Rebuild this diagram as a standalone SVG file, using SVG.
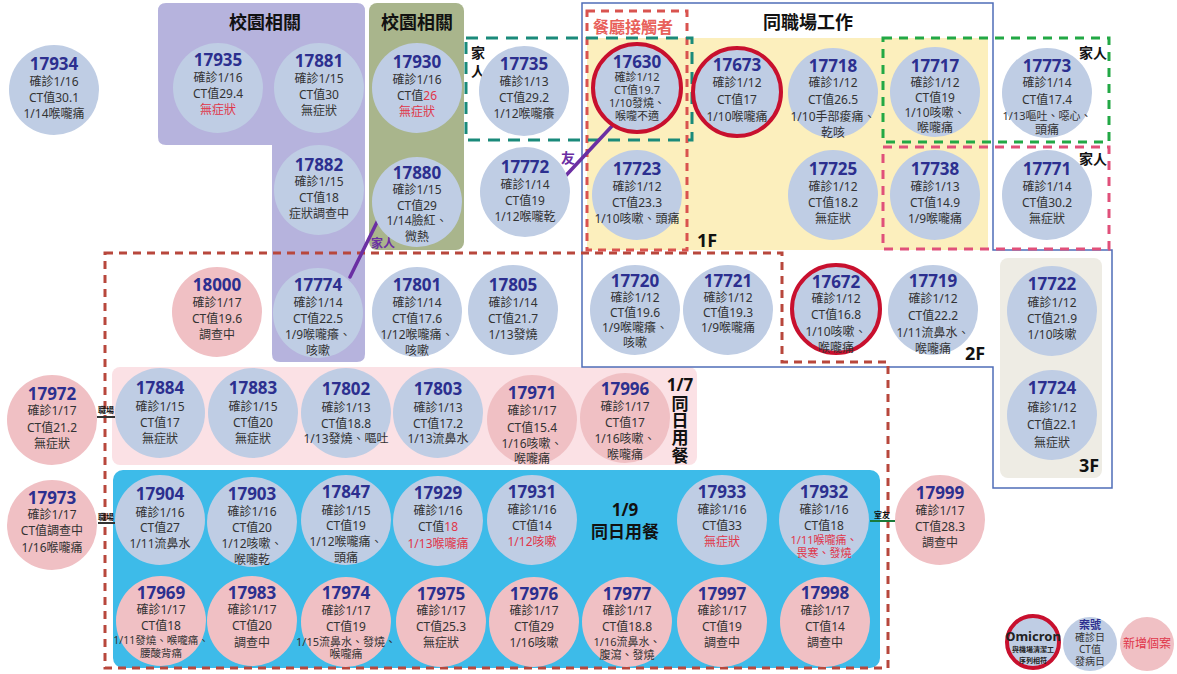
<svg xmlns="http://www.w3.org/2000/svg" width="1177" height="674" viewBox="0 0 1177 674">
<style>
text{font-family:"Noto Sans","Noto Sans CJK TC",sans-serif;text-anchor:middle;dominant-baseline:central}
.n{font-size:17px;font-weight:700;fill:#2c2f8f}
.t{font-size:12px;fill:#333}
.r{fill:#e0364a}
.s{font-size:10.5px}
.xs{font-size:11px}
.cb{fill:#bfcde4}
.cp{fill:#f0c0c4}
.ring{stroke:#c8102e;stroke-width:4}
.h{font-weight:700;fill:#111}
.dash{fill:none;stroke-width:3}
.lk{stroke:#6b2fa3;stroke-width:3.5;stroke-linecap:round}
.pl{font-weight:700;fill:#6b2fa3}
</style>
<rect width="1177" height="674" fill="#fff"/>
<g id="regions">
<path d="M166,3 H357 Q365,3 365,11 V354 Q365,362 357,362 H280 Q272,362 272,354 V145 H166 Q158,145 158,137 V11 Q158,3 166,3 Z" fill="#b6b3dd"/>
<rect x="369" y="3" width="95" height="247" rx="8" fill="#a9b58c"/>
<rect x="587" y="38" width="401" height="212" fill="#fcefbd"/>
<rect x="112" y="367" width="585" height="98" rx="8" fill="#fbe1e5"/>
<rect x="113" y="470" width="767" height="198" rx="10" fill="#3dbbe9"/>
<rect x="1000" y="258" width="102" height="220" rx="8" fill="#eeece4"/>
<path d="M582,3 H993 V250 H1112 V488 H993 V367 H582 Z" fill="none" stroke="#4f6db8" stroke-width="1.5"/>
<path d="M105,253 H782 V362 H888 V668 H105 Z" class="dash" stroke="#b8473c" stroke-dasharray="8 6"/>
<rect x="587" y="11" width="100" height="239" class="dash" stroke="#d9534f" stroke-dasharray="8 6"/>
<rect x="466" y="38" width="226" height="102" class="dash" stroke="#1a8a7a" stroke-width="3.5" stroke-dasharray="12 8"/>
<rect x="883" y="38" width="226" height="104" class="dash" stroke="#22a845" stroke-dasharray="9 7"/>
<rect x="883" y="147" width="226" height="102" class="dash" stroke="#e0507a" stroke-dasharray="9 7"/>
</g>
<g id="labels">
<text class="h" x="265" y="22" font-size="18">校園相關</text>
<text class="h" x="417" y="22" font-size="18">校園相關</text>
<text class="h" x="808" y="22" font-size="18">同職場工作</text>
<text x="633" y="27" font-size="16" font-weight="700" fill="#e8605a">餐廳接觸者</text>
<text class="h" x="478" y="52" font-size="14">家</text>
<text class="h" x="478" y="70" font-size="14">人</text>
<text class="h" x="1093" y="52" font-size="14">家人</text>
<text class="h" x="1093" y="158" font-size="14">家人</text>
<text class="h" x="707" y="240" font-size="18">1F</text>
<text class="h" x="975" y="353" font-size="18">2F</text>
<text class="h" x="1089" y="465" font-size="18">3F</text>
<text class="h" x="680" y="384" font-size="17">1/7</text>
<text class="h" x="680" y="403" font-size="17">同</text>
<text class="h" x="680" y="420" font-size="17">日</text>
<text class="h" x="680" y="437" font-size="17">用</text>
<text class="h" x="680" y="455" font-size="17">餐</text>
<text class="h" x="625" y="509" font-size="17">1/9</text>
<text class="h" x="625" y="531" font-size="17">同日用餐</text>
</g>
<g id="connectors">
<line class="lk" x1="350" y1="277" x2="381" y2="214"/>
<text class="pl" x="383" y="243" font-size="12">家人</text>
<line class="lk" x1="558" y1="184" x2="613" y2="125"/>
<text class="pl" x="568" y="157" font-size="14">友</text>
<line x1="97" y1="417" x2="115" y2="417" stroke="#333" stroke-width="2"/>
<text class="h" x="106" y="409" font-size="8">職場</text>
<line x1="98" y1="523" x2="115" y2="523" stroke="#333" stroke-width="2"/>
<text class="h" x="106" y="516" font-size="8">職場</text>
<line x1="870" y1="521" x2="895" y2="521" stroke="#1a7a3a" stroke-width="2"/>
<text class="h" x="882" y="514" font-size="8">室友</text>
</g>
<g id="n17934"><circle class="cb" cx="54" cy="90" r="45"/><text class="n" x="54" y="63">17934</text><text class="t" x="54" y="81">確診1/16</text><text class="t" x="54" y="97">CT值30.1</text><text class="t" x="54" y="113">1/14喉嚨痛</text></g>
<g id="n17935"><circle class="cb" cx="218" cy="88" r="45"/><text class="n" x="218" y="59">17935</text><text class="t" x="218" y="77">確診1/16</text><text class="t" x="218" y="93">CT值29.4</text><text class="t r" x="218" y="109">無症狀</text></g>
<g id="n17881"><circle class="cb" cx="319" cy="88" r="45"/><text class="n" x="319" y="60">17881</text><text class="t" x="319" y="78">確診1/15</text><text class="t" x="319" y="94">CT值30</text><text class="t" x="319" y="110">無症狀</text></g>
<g id="n17930"><circle class="cb" cx="417" cy="88" r="45"/><text class="n" x="417" y="61">17930</text><text class="t" x="417" y="79">確診1/16</text><text class="t" x="417" y="95">CT值<tspan class="r">26</tspan></text><text class="t r" x="417" y="111">無症狀</text></g>
<g id="n17735"><circle class="cb" cx="524" cy="91" r="45"/><text class="n" x="524" y="63">17735</text><text class="t" x="524" y="81">確診1/13</text><text class="t" x="524" y="97">CT值29.2</text><text class="t" x="524" y="113">1/12喉嚨癢</text></g>
<g id="n17630"><circle class="cb ring" cx="637" cy="88" r="44"/><text class="n" x="637" y="61">17630</text><text class="t xs" x="637" y="76">確診1/12</text><text class="t xs" x="637" y="89">CT值19.7</text><text class="t xs" x="637" y="102">1/10發燒、</text><text class="t xs" x="637" y="115">喉嚨不適</text></g>
<g id="n17673"><circle class="cb ring" cx="737" cy="92" r="44"/><text class="n" x="737" y="64">17673</text><text class="t" x="737" y="82">確診1/12</text><text class="t" x="737" y="99">CT值17</text><text class="t" x="737" y="116">1/10喉嚨痛</text></g>
<g id="n17718"><circle class="cb" cx="833" cy="93" r="45"/><text class="n" x="833" y="65">17718</text><text class="t" x="833" y="82">確診1/12</text><text class="t" x="833" y="99">CT值26.5</text><text class="t" x="833" y="116">1/10手部痠痛、</text><text class="t" x="833" y="132">乾咳</text></g>
<g id="n17717"><circle class="cb" cx="935" cy="92" r="45"/><text class="n" x="935" y="65">17717</text><text class="t" x="935" y="82">確診1/12</text><text class="t" x="935" y="97">CT值19</text><text class="t" x="935" y="112">1/10咳嗽、</text><text class="t" x="935" y="127">喉嚨痛</text></g>
<g id="n17773"><circle class="cb" cx="1047" cy="93" r="45"/><text class="n" x="1047" y="65">17773</text><text class="t" x="1047" y="82">確診1/14</text><text class="t" x="1047" y="99">CT值17.4</text><text class="t xs" x="1047" y="115">1/13嘔吐、噁心、</text><text class="t" x="1047" y="129">頭痛</text></g>
<g id="n17882"><circle class="cb" cx="319" cy="190" r="45"/><text class="n" x="319" y="164">17882</text><text class="t" x="319" y="181">確診1/15</text><text class="t" x="319" y="197">CT值18</text><text class="t" x="319" y="213">症狀調查中</text></g>
<g id="n17880"><circle class="cb" cx="417" cy="202" r="45"/><text class="n" x="417" y="172">17880</text><text class="t" x="417" y="189">確診1/15</text><text class="t" x="417" y="205">CT值29</text><text class="t" x="417" y="220">1/14臉紅、</text><text class="t" x="417" y="236">微熱</text></g>
<g id="n17772"><circle class="cb" cx="525" cy="192" r="45"/><text class="n" x="525" y="166">17772</text><text class="t" x="525" y="184">確診1/14</text><text class="t" x="525" y="200">CT值19</text><text class="t" x="525" y="216">1/12喉嚨乾</text></g>
<g id="n17723"><circle class="cb" cx="637" cy="195" r="45"/><text class="n" x="637" y="168">17723</text><text class="t" x="637" y="186">確診1/12</text><text class="t" x="637" y="202">CT值23.3</text><text class="t" x="637" y="218">1/10咳嗽、頭痛</text></g>
<g id="n17725"><circle class="cb" cx="833" cy="195" r="45"/><text class="n" x="833" y="168">17725</text><text class="t" x="833" y="186">確診1/12</text><text class="t" x="833" y="202">CT值18.2</text><text class="t" x="833" y="218">無症狀</text></g>
<g id="n17738"><circle class="cb" cx="935" cy="195" r="45"/><text class="n" x="935" y="168">17738</text><text class="t" x="935" y="186">確診1/13</text><text class="t" x="935" y="202">CT值14.9</text><text class="t" x="935" y="218">1/9喉嚨痛</text></g>
<g id="n17771"><circle class="cb" cx="1047" cy="195" r="45"/><text class="n" x="1047" y="168">17771</text><text class="t" x="1047" y="186">確診1/14</text><text class="t" x="1047" y="202">CT值30.2</text><text class="t" x="1047" y="218">無症狀</text></g>
<g id="n18000"><circle class="cp" cx="217" cy="312" r="45"/><text class="n" x="217" y="284">18000</text><text class="t" x="217" y="302">確診1/17</text><text class="t" x="217" y="318">CT值19.6</text><text class="t" x="217" y="334">調查中</text></g>
<g id="n17774"><circle class="cb" cx="318" cy="313" r="45"/><text class="n" x="318" y="284">17774</text><text class="t" x="318" y="302">確診1/14</text><text class="t" x="318" y="318">CT值22.5</text><text class="t" x="318" y="334">1/9喉嚨癢、</text><text class="t" x="318" y="350">咳嗽</text></g>
<g id="n17801"><circle class="cb" cx="417" cy="312" r="45"/><text class="n" x="417" y="284">17801</text><text class="t" x="417" y="302">確診1/14</text><text class="t" x="417" y="318">CT值17.6</text><text class="t" x="417" y="334">1/12喉嚨痛、</text><text class="t" x="417" y="350">咳嗽</text></g>
<g id="n17805"><circle class="cb" cx="513" cy="310" r="45"/><text class="n" x="513" y="284">17805</text><text class="t" x="513" y="302">確診1/14</text><text class="t" x="513" y="318">CT值21.7</text><text class="t" x="513" y="334">1/13發燒</text></g>
<g id="n17720"><circle class="cb" cx="635" cy="310" r="45"/><text class="n" x="635" y="280">17720</text><text class="t" x="635" y="297">確診1/12</text><text class="t" x="635" y="312">CT值19.6</text><text class="t" x="635" y="327">1/9喉嚨癢、</text><text class="t" x="635" y="342">咳嗽</text></g>
<g id="n17721"><circle class="cb" cx="728" cy="310" r="45"/><text class="n" x="728" y="280">17721</text><text class="t" x="728" y="297">確診1/12</text><text class="t" x="728" y="312">CT值19.3</text><text class="t" x="728" y="327">1/9喉嚨痛</text></g>
<g id="n17672"><circle class="cb ring" cx="836" cy="309" r="44"/><text class="n" x="836" y="281">17672</text><text class="t" x="836" y="298">確診1/12</text><text class="t" x="836" y="314">CT值16.8</text><text class="t" x="836" y="331">1/10咳嗽、</text><text class="t" x="836" y="347">喉嚨痛</text></g>
<g id="n17719"><circle class="cb" cx="933" cy="310" r="45"/><text class="n" x="933" y="280">17719</text><text class="t" x="933" y="298">確診1/12</text><text class="t" x="933" y="315">CT值22.2</text><text class="t" x="933" y="332">1/11流鼻水、</text><text class="t" x="933" y="348">喉嚨痛</text></g>
<g id="n17722"><circle class="cb" cx="1052" cy="311" r="45"/><text class="n" x="1052" y="283">17722</text><text class="t" x="1052" y="302">確診1/12</text><text class="t" x="1052" y="318">CT值21.9</text><text class="t" x="1052" y="334">1/10咳嗽</text></g>
<g id="n17972"><circle class="cp" cx="52" cy="420" r="45"/><text class="n" x="52" y="393">17972</text><text class="t" x="52" y="410">確診1/17</text><text class="t" x="52" y="427">CT值21.2</text><text class="t" x="52" y="443">無症狀</text></g>
<g id="n17884"><circle class="cb" cx="160" cy="413" r="45"/><text class="n" x="160" y="387">17884</text><text class="t" x="160" y="406">確診1/15</text><text class="t" x="160" y="422">CT值17</text><text class="t" x="160" y="438">無症狀</text></g>
<g id="n17883"><circle class="cb" cx="253" cy="413" r="45"/><text class="n" x="253" y="387">17883</text><text class="t" x="253" y="406">確診1/15</text><text class="t" x="253" y="422">CT值20</text><text class="t" x="253" y="438">無症狀</text></g>
<g id="n17802"><circle class="cb" cx="346" cy="413" r="45"/><text class="n" x="346" y="388">17802</text><text class="t" x="346" y="407">確診1/13</text><text class="t" x="346" y="423">CT值18.8</text><text class="t" x="346" y="438">1/13發燒、嘔吐</text></g>
<g id="n17803"><circle class="cb" cx="438" cy="413" r="45"/><text class="n" x="438" y="388">17803</text><text class="t" x="438" y="407">確診1/13</text><text class="t" x="438" y="423">CT值17.2</text><text class="t" x="438" y="438">1/13流鼻水</text></g>
<g id="n17971"><circle class="cp" cx="532" cy="420" r="45"/><text class="n" x="532" y="392">17971</text><text class="t" x="532" y="410">確診1/17</text><text class="t" x="532" y="427">CT值15.4</text><text class="t" x="532" y="443">1/16咳嗽、</text><text class="t" x="532" y="458">喉嚨痛</text></g>
<g id="n17996"><circle class="cp" cx="625" cy="418" r="45"/><text class="n" x="625" y="388">17996</text><text class="t" x="625" y="406">確診1/17</text><text class="t" x="625" y="422">CT值17</text><text class="t" x="625" y="438">1/16咳嗽、</text><text class="t" x="625" y="454">喉嚨痛</text></g>
<g id="n17724"><circle class="cb" cx="1052" cy="415" r="45"/><text class="n" x="1052" y="387">17724</text><text class="t" x="1052" y="407">確診1/12</text><text class="t" x="1052" y="424">CT值22.1</text><text class="t" x="1052" y="442">無症狀</text></g>
<g id="n17973"><circle class="cp" cx="52" cy="525" r="45"/><text class="n" x="52" y="497">17973</text><text class="t" x="52" y="514">確診1/17</text><text class="t" x="52" y="530">CT值調查中</text><text class="t" x="52" y="547">1/16喉嚨痛</text></g>
<g id="n17904"><circle class="cb" cx="160" cy="520" r="45"/><text class="n" x="160" y="493">17904</text><text class="t" x="160" y="512">確診1/16</text><text class="t" x="160" y="527">CT值27</text><text class="t" x="160" y="543">1/11流鼻水</text></g>
<g id="n17903"><circle class="cb" cx="252" cy="522" r="45"/><text class="n" x="252" y="493">17903</text><text class="t" x="252" y="511">確診1/16</text><text class="t" x="252" y="527">CT值20</text><text class="t" x="252" y="543">1/12咳嗽、</text><text class="t" x="252" y="559">喉嚨乾</text></g>
<g id="n17847"><circle class="cb" cx="346" cy="520" r="45"/><text class="n" x="346" y="491">17847</text><text class="t" x="346" y="510">確診1/15</text><text class="t" x="346" y="525">CT值19</text><text class="t" x="346" y="541">1/12喉嚨痛、</text><text class="t" x="346" y="557">頭痛</text></g>
<g id="n17929"><circle class="cb" cx="438" cy="521" r="45"/><text class="n" x="438" y="492">17929</text><text class="t" x="438" y="510">確診1/16</text><text class="t" x="438" y="526">CT值<tspan class="r">18</tspan></text><text class="t r" x="438" y="543">1/13喉嚨痛</text></g>
<g id="n17931"><circle class="cb" cx="532" cy="520" r="45"/><text class="n" x="532" y="491">17931</text><text class="t" x="532" y="509">確診1/16</text><text class="t" x="532" y="525">CT值14</text><text class="t r" x="532" y="541">1/12咳嗽</text></g>
<g id="n17933"><circle class="cb" cx="722" cy="520" r="45"/><text class="n" x="722" y="491">17933</text><text class="t" x="722" y="509">確診1/16</text><text class="t" x="722" y="525">CT值33</text><text class="t r" x="722" y="541">無症狀</text></g>
<g id="n17932"><circle class="cb" cx="824" cy="520" r="45"/><text class="n" x="824" y="491">17932</text><text class="t" x="824" y="509">確診1/16</text><text class="t" x="824" y="525">CT值18</text><text class="t xs r" x="824" y="539">1/11喉嚨痛、</text><text class="t xs r" x="824" y="552">畏寒、發燒</text></g>
<g id="n17999"><circle class="cp" cx="940" cy="520" r="45"/><text class="n" x="940" y="492">17999</text><text class="t" x="940" y="510">確診1/17</text><text class="t" x="940" y="526">CT值28.3</text><text class="t" x="940" y="542">調查中</text></g>
<g id="n17969"><circle class="cp" cx="161" cy="621" r="45"/><text class="n" x="161" y="592">17969</text><text class="t" x="161" y="609">確診1/17</text><text class="t" x="161" y="625">CT值18</text><text class="t s" x="161" y="640">1/11發燒、喉嚨痛、</text><text class="t s" x="161" y="653">腰酸背痛</text></g>
<g id="n17983"><circle class="cp" cx="252" cy="621" r="45"/><text class="n" x="252" y="592">17983</text><text class="t" x="252" y="609">確診1/17</text><text class="t" x="252" y="625">CT值20</text><text class="t" x="252" y="642">調查中</text></g>
<g id="n17974"><circle class="cp" cx="346" cy="622" r="45"/><text class="n" x="346" y="592">17974</text><text class="t" x="346" y="610">確診1/17</text><text class="t" x="346" y="626">CT值19</text><text class="t xs" x="346" y="641">1/15流鼻水、發燒、</text><text class="t xs" x="346" y="653">喉嚨痛</text></g>
<g id="n17975"><circle class="cp" cx="441" cy="622" r="45"/><text class="n" x="441" y="593">17975</text><text class="t" x="441" y="610">確診1/17</text><text class="t" x="441" y="626">CT值25.3</text><text class="t" x="441" y="642">無症狀</text></g>
<g id="n17976"><circle class="cp" cx="534" cy="622" r="45"/><text class="n" x="534" y="593">17976</text><text class="t" x="534" y="610">確診1/17</text><text class="t" x="534" y="626">CT值29</text><text class="t" x="534" y="642">1/16咳嗽</text></g>
<g id="n17977"><circle class="cp" cx="627" cy="622" r="45"/><text class="n" x="627" y="593">17977</text><text class="t" x="627" y="610">確診1/17</text><text class="t" x="627" y="626">CT值18.8</text><text class="t xs" x="627" y="641">1/16流鼻水、</text><text class="t xs" x="627" y="654">腹瀉、發燒</text></g>
<g id="n17997"><circle class="cp" cx="722" cy="622" r="45"/><text class="n" x="722" y="593">17997</text><text class="t" x="722" y="610">確診1/17</text><text class="t" x="722" y="626">CT值19</text><text class="t" x="722" y="642">調查中</text></g>
<g id="n17998"><circle class="cp" cx="825" cy="622" r="45"/><text class="n" x="825" y="592">17998</text><text class="t" x="825" y="610">確診1/17</text><text class="t" x="825" y="626">CT值14</text><text class="t" x="825" y="642">調查中</text></g>
<g id="legend">
<g id="leg-omicron"><circle class="cb ring" cx="1033" cy="642" r="26"/><text x="1033" y="636" font-size="13" font-weight="700" fill="#222">Omicron</text><text x="1033" y="649" font-size="7" font-weight="700" fill="#222">與機場清潔工</text><text x="1033" y="660" font-size="7" font-weight="700" fill="#222">序列相符</text></g>
<g id="leg-case"><circle class="cb" cx="1090" cy="644" r="27"/><text x="1090" y="624" font-size="11" font-weight="700" fill="#2c2f8f">案號</text><text x="1090" y="637" font-size="10" fill="#333">確診日</text><text x="1090" y="649" font-size="10" fill="#333">CT值</text><text x="1090" y="661" font-size="10" fill="#333">發病日</text></g>
<g id="leg-new"><circle class="cp" cx="1147" cy="644" r="27"/><text x="1147" y="643" font-size="12" fill="#e0364a">新增個案</text></g>
</g>
</svg>
